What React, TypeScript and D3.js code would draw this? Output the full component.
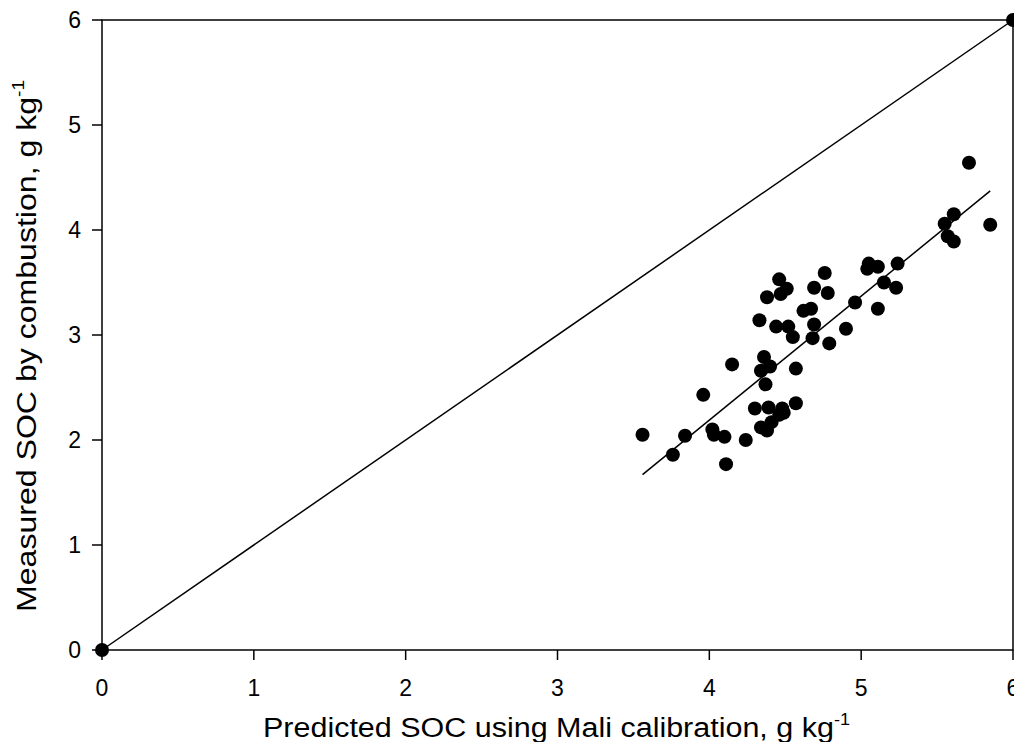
import React from 'react'
import * as d3 from 'd3'

// predicted (Mali calibration) vs measured SOC, g/kg
const predicted = [
  3.56, 3.76, 3.84, 3.96, 4.02, 4.03, 4.10, 4.11, 4.24, 4.15,
  4.33, 4.36, 4.34, 4.40, 4.37, 4.57, 4.30, 4.39, 4.48, 4.57,
  4.34, 4.38, 4.41, 4.46, 4.49, 4.44, 4.52, 4.55, 4.38, 4.47,
  4.46, 4.51, 4.69, 4.62, 4.67, 4.69, 4.68, 5.71, 5.85, 5.61,
  5.55, 5.57, 5.61, 5.05, 5.04, 5.11, 5.24, 5.15, 5.23, 4.96,
  5.11, 4.90, 4.79, 4.76, 4.78,
]
const measured = [
  2.05, 1.86, 2.04, 2.43, 2.10, 2.05, 2.03, 1.77, 2.00, 2.72,
  3.14, 2.79, 2.66, 2.70, 2.53, 2.68, 2.30, 2.31, 2.30, 2.35,
  2.12, 2.09, 2.17, 2.24, 2.26, 3.08, 3.08, 2.98, 3.36, 3.39,
  3.53, 3.44, 3.45, 3.23, 3.25, 3.10, 2.97, 4.64, 4.05, 4.15,
  4.06, 3.94, 3.89, 3.68, 3.63, 3.65, 3.68, 3.50, 3.45, 3.31,
  3.25, 3.06, 2.92, 3.59, 3.40,
]
// 1:1 line end points (also plotted as dots)
const oneToOne = [0, 6]
const ticks = [0, 1, 2, 3, 4, 5, 6]
// fitted regression
const fitSlope = 1.18
const fitIntercept = -2.53

export default function App() {
  const width = 1014,
    height = 742
  const left = 102,
    right = 1013,
    top = 20,
    bottom = 650

  const x = d3.scaleLinear().domain([0, 6]).range([left, right])
  const y = d3.scaleLinear().domain([0, 6]).range([bottom, top])

  const [xMin, xMax] = d3.extent(predicted) as [number, number]
  const line = d3.line<number>()
    .x(d => x(d))
    .y(d => y(fitSlope * d + fitIntercept))

  const font = 'Arial, "Liberation Sans", sans-serif'

  return (
    <svg width={width} height={height} style={{position: 'absolute', left: 0, top: 0, background: '#fff'}}>
      <rect x={left} y={top} width={right - left} height={bottom - top} fill="none" stroke="#000" strokeWidth={1.5} />

      {ticks.map(t => (
        <g key={'x' + t}>
          <line x1={x(t)} x2={x(t)} y1={bottom} y2={bottom + 10} stroke="#000" strokeWidth={1.5} />
          <text x={x(t)} y={696} textAnchor="middle" fontFamily={font} fontSize={23}>{t}</text>
        </g>
      ))}
      {ticks.map(t => (
        <g key={'y' + t}>
          <line x1={left - 10} x2={left} y1={y(t)} y2={y(t)} stroke="#000" strokeWidth={1.5} />
          <text x={81} y={y(t) + 8} textAnchor="end" fontFamily={font} fontSize={23}>{t}</text>
        </g>
      ))}

      <line x1={x(oneToOne[0])} y1={y(oneToOne[0])} x2={x(oneToOne[1])} y2={y(oneToOne[1])} stroke="#000" strokeWidth={1.5} />
      <path d={line([xMin, xMax]) || ''} fill="none" stroke="#000" strokeWidth={1.5} />

      {oneToOne.map((v, i) => (
        <circle key={'o' + i} cx={x(v)} cy={y(v)} r={7} fill="#000" />
      ))}
      {predicted.map((p, i) => (
        <circle key={i} cx={x(p)} cy={y(measured[i])} r={7} fill="#000" />
      ))}

      <text x={263} y={737} fontFamily={font} fontSize={27} textLength={587} lengthAdjust="spacingAndGlyphs">
        Predicted SOC using Mali calibration, g kg<tspan dy={-12} fontSize={16}>-1</tspan>
      </text>
      <text transform={`translate(36, 612) rotate(-90)`} fontFamily={font} fontSize={27} textLength={532} lengthAdjust="spacingAndGlyphs">
        Measured SOC by combustion, g kg<tspan dy={-12} fontSize={16}>-1</tspan>
      </text>
    </svg>
  )
}
